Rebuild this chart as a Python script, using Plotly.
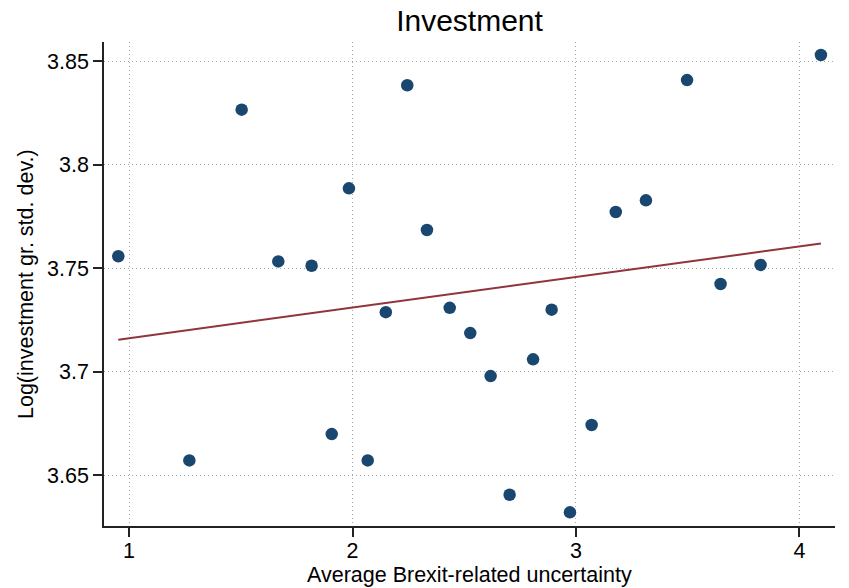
import numpy as np
import plotly.graph_objects as go

uncertainty = [0.952, 1.270, 1.504, 1.668, 1.817, 1.907, 1.984, 2.068, 2.149, 2.245,
               2.333, 2.435, 2.527, 2.618, 2.703, 2.808, 2.891, 2.973, 3.070, 3.178,
               3.313, 3.497, 3.647, 3.826, 4.096]
log_inv_sd = [3.7557, 3.6571, 3.8265, 3.7532, 3.7511, 3.6698, 3.7885, 3.6571, 3.7287, 3.8383,
              3.7684, 3.7308, 3.7186, 3.6978, 3.6405, 3.7059, 3.7299, 3.6320, 3.6742, 3.7771,
              3.7827, 3.8408, 3.7423, 3.7515, 3.8529]
x_ticks = [1, 2, 3, 4]
y_ticks = [3.65, 3.7, 3.75, 3.8, 3.85]
y_tick_text = ["3.65", "3.7", "3.75", "3.8", "3.85"]

xs = np.array(uncertainty)
ys = np.array(log_inv_sd)
slope, intercept = np.polyfit(xs, ys, 1)
fit_x = np.array([xs.min(), xs.max()])
fit_y = intercept + slope * fit_x

FONT = "Arial, Liberation Sans, Helvetica, sans-serif"

fig = go.Figure()
fig.add_trace(go.Scatter(x=uncertainty, y=log_inv_sd, mode="markers",
                         marker=dict(color="#1a476f", size=12.5, line=dict(width=0)),
                         showlegend=False, hoverinfo="skip"))
fig.add_trace(go.Scatter(x=fit_x, y=fit_y, mode="lines",
                         line=dict(color="#90353b", width=2),
                         showlegend=False, hoverinfo="skip"))

axis_common = dict(
    showline=True, linecolor="#222222", linewidth=1.5,
    ticks="outside", ticklen=9, tickwidth=1.5, tickcolor="#222222",
    showgrid=True, gridcolor="#a8a8a8", gridwidth=1, griddash="1px,3px",
    zeroline=False, tickfont=dict(family=FONT, size=21.5, color="#000000"),
)

fig.update_layout(
    width=849, height=588,
    paper_bgcolor="white", plot_bgcolor="white",
    margin=dict(l=104, r=14, t=42, b=62),
    title=dict(text="Investment", x=469.5/849, xanchor="center", xref="container",
               y=1 - 20/588, yanchor="middle", yref="container",
               font=dict(family=FONT, size=30, color="#000000")),
    xaxis=dict(range=[0.888, 4.159], tickvals=x_ticks, ticklabelstandoff=-5, **axis_common),
    yaxis=dict(range=[3.6254, 3.8592], tickvals=y_ticks, ticktext=y_tick_text, **axis_common),
    annotations=[
        dict(text="Average Brexit-related uncertainty", x=0.5, xref="paper", y=0, yref="paper",
             xanchor="center", yanchor="middle", yshift=-49, showarrow=False,
             font=dict(family=FONT, size=21.5, color="#000000")),
        dict(text="Log(investment gr. std. dev.)", x=0, xref="paper", y=0.5, yref="paper",
             xanchor="center", yanchor="middle", xshift=-78, textangle=-90, showarrow=False,
             font=dict(family=FONT, size=21.5, color="#000000")),
    ],
)

fig.write_html("out.html", config={"displayModeBar": False},
               post_script="document.body.style.margin='0';document.body.style.overflow='hidden';")
